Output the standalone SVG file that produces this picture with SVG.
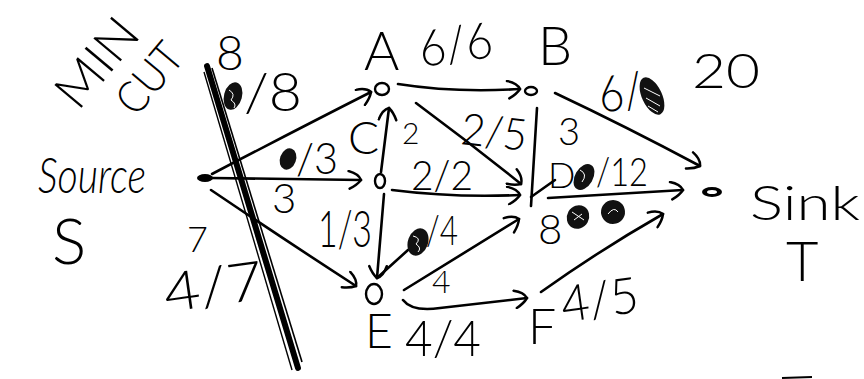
<svg xmlns="http://www.w3.org/2000/svg" width="864" height="379" viewBox="0 0 864 379">
<style>
text{font-family:"Lato","Liberation Sans",sans-serif;font-weight:300;fill:#000}
.e{fill:none;stroke:#000;stroke-width:2.6;stroke-linecap:round;marker-end:url(#ah)}
.l{fill:none;stroke:#000;stroke-width:2.6;stroke-linecap:round}
.n{fill:#fff;stroke:#000;stroke-width:2.4}
.blob{fill:#111}
.sq{fill:none;stroke:#fff;stroke-width:1}
</style>
<defs>
<marker id="ah" viewBox="0 0 12 16" refX="11" refY="8" markerWidth="16" markerHeight="20" markerUnits="userSpaceOnUse" orient="auto">
<path d="M1,1 Q9,3 11,8 Q8,12 2,15" fill="none" stroke="#000" stroke-width="2" stroke-linecap="round"/>
</marker>
</defs>
<rect width="864" height="379" fill="#fff"/>

<g id="mincut">
<text x="78" y="112" font-size="50" transform="rotate(-50 78 112)" textLength="100" lengthAdjust="spacingAndGlyphs">MIN</text>
<text x="136" y="118" font-size="44" transform="rotate(-50 136 118)" textLength="78" lengthAdjust="spacingAndGlyphs">CUT</text>
<path d="M207,66 L298,368" stroke="#000" stroke-width="6" fill="none" stroke-linecap="round"/>
<path d="M212,68 L302,362" stroke="#000" stroke-width="1.6" fill="none"/>
<path d="M204,72 L292,370" stroke="#000" stroke-width="1.4" fill="none"/>
</g>

<g id="edges">
<path class="e" d="M212,174 Q300,128 371,92"/>
<path class="e" d="M398,84 Q455,93 520,89"/>
<path class="e" d="M555,93 Q625,126 700,166"/>
<path class="l" d="M537,108 L531,206"/>
<path class="e" d="M416,103 Q470,143 521,184"/>
<path class="e" d="M381,172 L389,108"/>
<path class="e" d="M212,178 L361,180"/>
<path class="e" d="M392,190 Q455,198 520,195"/>
<path class="e" d="M211,190 Q285,240 356,286"/>
<path class="e" d="M384,194 L377,278"/>
<path class="l" d="M377,278 L408,250"/>
<path class="e" d="M404,290 L519,219"/>
<path class="e" d="M403,300 Q412,312 440,308 L527,298"/>
<path class="e" d="M541,292 Q600,250 663,214"/>
<path class="e" d="M548,198 L683,190"/>
<path class="l" d="M531,197 L555,180"/>
</g>

<g id="labels">
<text x="216" y="70" font-size="48">8</text>
<ellipse class="blob" cx="233" cy="96" rx="9" ry="14" transform="rotate(15 233 96)"/>
<path class="sq" d="M229,90 Q236,94 231,100 Q237,104 234,108"/>
<text x="244" y="111" font-size="54" textLength="58" lengthAdjust="spacingAndGlyphs">/8</text>

<text x="418" y="62" font-size="50" textLength="74" lengthAdjust="spacingAndGlyphs" transform="rotate(-8 455 40)">6/6</text>
<text x="462" y="147" font-size="44" textLength="66" lengthAdjust="spacingAndGlyphs" transform="rotate(6 490 125)">2/5</text>
<text x="402" y="144" font-size="30">2</text>
<text x="411" y="190" font-size="42" textLength="62" lengthAdjust="spacingAndGlyphs">2/2</text>
<text x="558" y="145" font-size="38">3</text>

<text x="598" y="110" font-size="50" textLength="44" lengthAdjust="spacingAndGlyphs" transform="rotate(-8 620 90)">6/</text>
<ellipse class="blob" cx="652" cy="96" rx="10" ry="20" transform="rotate(-25 652 96)"/>
<path class="sq" d="M644,88 L660,96 M646,98 L660,106 M648,106 L658,112"/>
<text x="692" y="88" font-size="48" textLength="68" lengthAdjust="spacingAndGlyphs">20</text>

<ellipse class="blob" cx="288" cy="159" rx="8" ry="11" transform="rotate(20 288 159)"/>
<text x="296" y="174" font-size="44" textLength="42" lengthAdjust="spacingAndGlyphs">/3</text>
<text x="272" y="213" font-size="42">3</text>

<ellipse class="blob" cx="584" cy="177" rx="9" ry="14" transform="rotate(30 584 177)"/>
<path class="sq" d="M580,170 Q588,174 582,182"/>
<text x="596" y="186" font-size="40" textLength="52" lengthAdjust="spacingAndGlyphs">/12</text>

<text x="538" y="244" font-size="42">8</text>
<ellipse class="blob" cx="578" cy="217" rx="11" ry="12" transform="rotate(30 578 217)"/>
<path class="sq" d="M572,212 L584,220 M574,220 L582,214"/>
<ellipse class="blob" cx="613" cy="212" rx="12" ry="12" transform="rotate(30 613 212)"/>
<path class="sq" d="M608,214 Q614,206 618,212"/>

<text x="318" y="247" font-size="52" textLength="54" lengthAdjust="spacingAndGlyphs">1/3</text>
<ellipse class="blob" cx="418" cy="242" rx="10" ry="14" transform="rotate(20 418 242)"/>
<path class="sq" d="M413,236 Q422,238 416,244 Q422,248 418,252"/>
<text x="426" y="245" font-size="42" textLength="32" lengthAdjust="spacingAndGlyphs">/4</text>
<text x="432" y="293" font-size="32">4</text>
<text x="405" y="356" font-size="50" textLength="76" lengthAdjust="spacingAndGlyphs">4/4</text>
<text x="560" y="317" font-size="50" textLength="78" lengthAdjust="spacingAndGlyphs" transform="rotate(-8 600 295)">4/5</text>

<text x="187" y="252" font-size="36">7</text>
<text x="163" y="306" font-size="54" textLength="100" lengthAdjust="spacingAndGlyphs" transform="rotate(-8 210 285)">4/7</text>
</g>

<g id="S">
<ellipse cx="205" cy="178" rx="8" ry="4" fill="#000"/>
<text x="38" y="193" font-size="50" font-style="italic" textLength="108" lengthAdjust="spacingAndGlyphs">Source</text>
<text x="52" y="264" font-size="64">S</text>
</g>
<g id="A">
<ellipse class="n" cx="382" cy="89" rx="7" ry="6"/>
<text x="364" y="70" font-size="54">A</text>
</g>
<g id="B">
<ellipse class="n" cx="531" cy="91" rx="6" ry="4"/>
<text x="538" y="65" font-size="54">B</text>
</g>
<g id="C">
<ellipse class="n" cx="380" cy="181" rx="5" ry="7"/>
<text x="348" y="154" font-size="46">C</text>
</g>
<g id="D">
<text x="548" y="188" font-size="36">D</text>
</g>
<g id="E">
<ellipse class="n" cx="374" cy="294" rx="8" ry="10"/>
<text x="365" y="348" font-size="48">E</text>
</g>
<g id="F">
<text x="528" y="344" font-size="50">F</text>
</g>
<g id="T">
<ellipse cx="712" cy="192" rx="10" ry="5" fill="#000"/>
<ellipse cx="712" cy="192" rx="5" ry="2" fill="#fff"/>
<text x="750" y="220" font-size="48" textLength="110" lengthAdjust="spacingAndGlyphs">Sink</text>
<text x="786" y="281" font-size="56">T</text>
</g>
<path d="M782,378 L812,377" stroke="#000" stroke-width="2"/>
</svg>
